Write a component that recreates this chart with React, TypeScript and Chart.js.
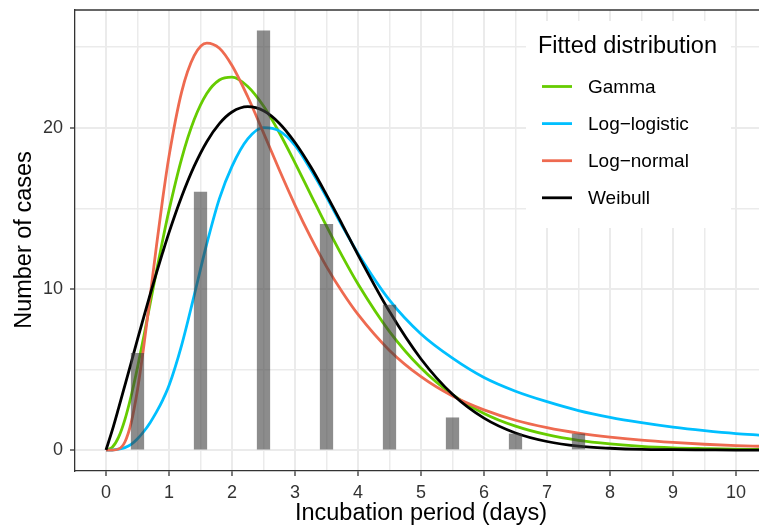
import React, { useEffect, useRef } from "react";
import { Chart, registerables } from "chart.js";

Chart.register(...registerables);

// Observed counts per day bin
const barDays = [0.5, 1.5, 2.5, 3.5, 4.5, 5.5, 6.5, 7.5];
const barCases = [6, 16, 26, 14, 9, 2, 1, 1];

// Fitted curves (x in days, y in cases)
const curveDays = [0, 0.1, 0.2, 0.3, 0.4, 0.5, 0.6, 0.7, 0.8, 0.9, 1.0, 1.2, 1.4, 1.6, 1.8, 2.0, 2.25, 2.5, 2.75, 3.0, 3.25, 3.5, 3.75, 4.0, 4.5, 5.0, 5.5, 6.0, 6.5, 7.0, 7.5, 8.0, 8.5, 9.0, 9.5, 10.0, 10.4];
const gammaFit = [0, 0.17, 0.8, 1.89, 3.37, 5.12, 7.05, 9.06, 11.08, 13.03, 14.87, 18.07, 20.5, 22.12, 22.96, 23.13, 22.55, 21.34, 19.7, 17.82, 15.85, 13.89, 12.03, 10.3, 7.35, 5.09, 3.44, 2.27, 1.48, 0.95, 0.6, 0.38, 0.23, 0.14, 0.09, 0.05, 0.04];
const logLogisticFit = [0, 0.0, 0.05, 0.15, 0.35, 0.7, 1.15, 1.7, 2.35, 3.1, 4.0, 6.5, 9.6, 12.8, 15.6, 17.6, 19.3, 20.0, 19.8, 18.9, 17.4, 15.7, 13.9, 12.2, 9.3, 7.2, 5.7, 4.5, 3.65, 3.0, 2.45, 2.03, 1.7, 1.42, 1.2, 1.02, 0.92];
const logNormalFit = [0, 0, 0.06, 0.5, 1.7, 3.74, 6.45, 9.51, 12.64, 15.59, 18.22, 22.21, 24.47, 25.25, 24.93, 23.86, 21.92, 19.68, 17.39, 15.2, 13.19, 11.38, 9.8, 8.41, 6.18, 4.55, 3.35, 2.49, 1.85, 1.39, 1.05, 0.8, 0.61, 0.47, 0.36, 0.28, 0.23];
const weibullFit = [0, 1.23, 2.6, 4.01, 5.43, 6.86, 8.26, 9.64, 10.98, 12.26, 13.49, 15.71, 17.61, 19.13, 20.25, 20.97, 21.3, 21.05, 20.28, 19.08, 17.57, 15.83, 13.99, 12.11, 8.59, 5.65, 3.46, 1.98, 1.06, 0.53, 0.24, 0.11, 0.04, 0.02, 0.01, 0, 0];

const seriesNames = ["Gamma", "Log\u2212logistic", "Log\u2212normal", "Weibull"];
const seriesColors = ["#66CC00", "#00BFFF", "#EE6A50", "#000000"];
const seriesValues = [gammaFit, logLogisticFit, logNormalFit, weibullFit];

const xTickValues = [0, 1, 2, 3, 4, 5, 6, 7, 8, 9, 10];
const yTickValues = [0, 10, 20];
const xAxisTitle = "Incubation period (days)";
const yAxisTitle = "Number of cases";
const legendTitle = "Fitted distribution";

const FONT = '"Liberation Sans", Arial, Helvetica, sans-serif';

export default function App() {
  const canvasRef = useRef<HTMLCanvasElement | null>(null);

  useEffect(() => {
    const canvas = canvasRef.current;
    if (!canvas) return;

    const xGrid: number[] = [];
    xTickValues.forEach((v) => { xGrid.push(v); if (v < 10) xGrid.push(v + 0.5); });
    const yGrid: number[] = [];
    yTickValues.forEach((v) => { yGrid.push(v); yGrid.push(v + 5); });

    const isMajorX = (v: any) => typeof v === "number" && xTickValues.includes(v);
    const isMajorY = (v: any) => typeof v === "number" && yTickValues.includes(v);

    const decor = {
      id: "decor",
      afterDraw(chart: any) {
        const ctx = chart.ctx as CanvasRenderingContext2D;
        const { left, right, top } = chart.chartArea;
        ctx.save();
        // top panel border
        ctx.strokeStyle = "#333333";
        ctx.lineWidth = 1.3;
        ctx.beginPath();
        ctx.moveTo(left, top);
        ctx.lineTo(right, top);
        ctx.stroke();

        // axis titles
        ctx.fillStyle = "#000000";
        ctx.font = `23.5px ${FONT}`;
        ctx.textAlign = "center";
        ctx.textBaseline = "alphabetic";
        ctx.fillText(xAxisTitle, 421, 520);
        ctx.save();
        ctx.translate(31, 240);
        ctx.rotate(-Math.PI / 2);
        ctx.fillText(yAxisTitle, 0, 0);
        ctx.restore();

        // legend
        ctx.fillStyle = "#FFFFFF";
        ctx.fillRect(526, 21, 205, 207);
        ctx.fillStyle = "#000000";
        ctx.textAlign = "left";
        ctx.font = `23.5px ${FONT}`;
        ctx.fillText(legendTitle, 538, 53);
        ctx.font = `19px ${FONT}`;
        ctx.textBaseline = "middle";
        seriesNames.forEach((name, i) => {
          const y = 86.5 + i * 37.1;
          ctx.strokeStyle = seriesColors[i];
          ctx.lineWidth = 2.8;
          ctx.beginPath();
          ctx.moveTo(542, y);
          ctx.lineTo(572, y);
          ctx.stroke();
          ctx.fillStyle = "#000000";
          ctx.fillText(name, 588, y + 1);
        });
        ctx.restore();
      },
    };

    const lineSets = seriesNames.map((name, i) => ({
      type: "line" as const,
      label: name,
      data: curveDays.map((d, j) => ({ x: d, y: seriesValues[i][j] })),
      borderColor: seriesColors[i],
      backgroundColor: seriesColors[i],
      borderWidth: 2.8,
      pointRadius: 0,
      fill: false,
      cubicInterpolationMode: "monotone" as const,
      order: 4 - i,
    }));

    const chart = new Chart(canvas, {
      type: "bar",
      data: {
        datasets: [
          {
            type: "bar" as const,
            label: "Cases",
            data: barDays.map((d, i) => ({ x: d, y: barCases[i] })),
            backgroundColor: "rgba(64,64,64,0.6)",
            borderWidth: 0,
            barThickness: 12.6,
            order: 0,
          } as any,
          ...lineSets,
        ],
      },
      options: {
        responsive: false,
        animation: false,
        events: [],
        layout: { padding: { top: 10, right: 0, bottom: 0, left: 0 } },
        plugins: { legend: { display: false }, tooltip: { enabled: false }, title: { display: false } },
        scales: {
          x: {
            type: "linear",
            min: -0.492,
            max: 10.365,
            offset: false,
            afterBuildTicks: (s: any) => { s.ticks = xGrid.map((v) => ({ value: v })); },
            afterFit: (s: any) => { s.height = 60; s.paddingLeft = 0; s.paddingRight = 0; },
            grid: {
              offset: false,
              color: "#EBEBEB",
              lineWidth: (c: any) => (isMajorX(c.tick?.value) ? 2 : 1.5),
              tickColor: (c: any) => (isMajorX(c.tick?.value) ? "#333333" : "rgba(0,0,0,0)"),
              tickLength: 5,
              tickWidth: 1.3,
              drawTicks: true,
            },
            border: { display: true, color: "#333333", width: 1.3 },
            ticks: {
              autoSkip: false,
              maxRotation: 0,
              color: "#333333",
              font: { family: FONT, size: 18 },
              padding: 6,
              callback: (v: any) => (isMajorX(v) ? String(v) : ""),
            },
          },
          y: {
            type: "linear",
            min: -1.3,
            max: 27.3,
            afterBuildTicks: (s: any) => { s.ticks = yGrid.map((v) => ({ value: v })); },
            afterFit: (s: any) => { s.width = 75; s.paddingTop = 0; s.paddingBottom = 0; },
            grid: {
              color: "#EBEBEB",
              lineWidth: (c: any) => (isMajorY(c.tick?.value) ? 2 : 1.5),
              tickColor: (c: any) => (isMajorY(c.tick?.value) ? "#333333" : "rgba(0,0,0,0)"),
              tickLength: 5,
              tickWidth: 1.3,
              drawTicks: true,
            },
            border: { display: true, color: "#333333", width: 1.3 },
            ticks: {
              autoSkip: false,
              color: "#333333",
              font: { family: FONT, size: 18 },
              padding: 7,
              callback: (v: any) => (isMajorY(v) ? String(v) : ""),
            },
          },
        },
      },
      plugins: [decor],
    } as any);

    return () => chart.destroy();
  }, []);

  return (
    <div style={{ position: "absolute", left: 0, top: 0, width: 759, height: 531, background: "#FFFFFF" }}>
      <canvas ref={canvasRef} width={759} height={531} />
    </div>
  );
}
